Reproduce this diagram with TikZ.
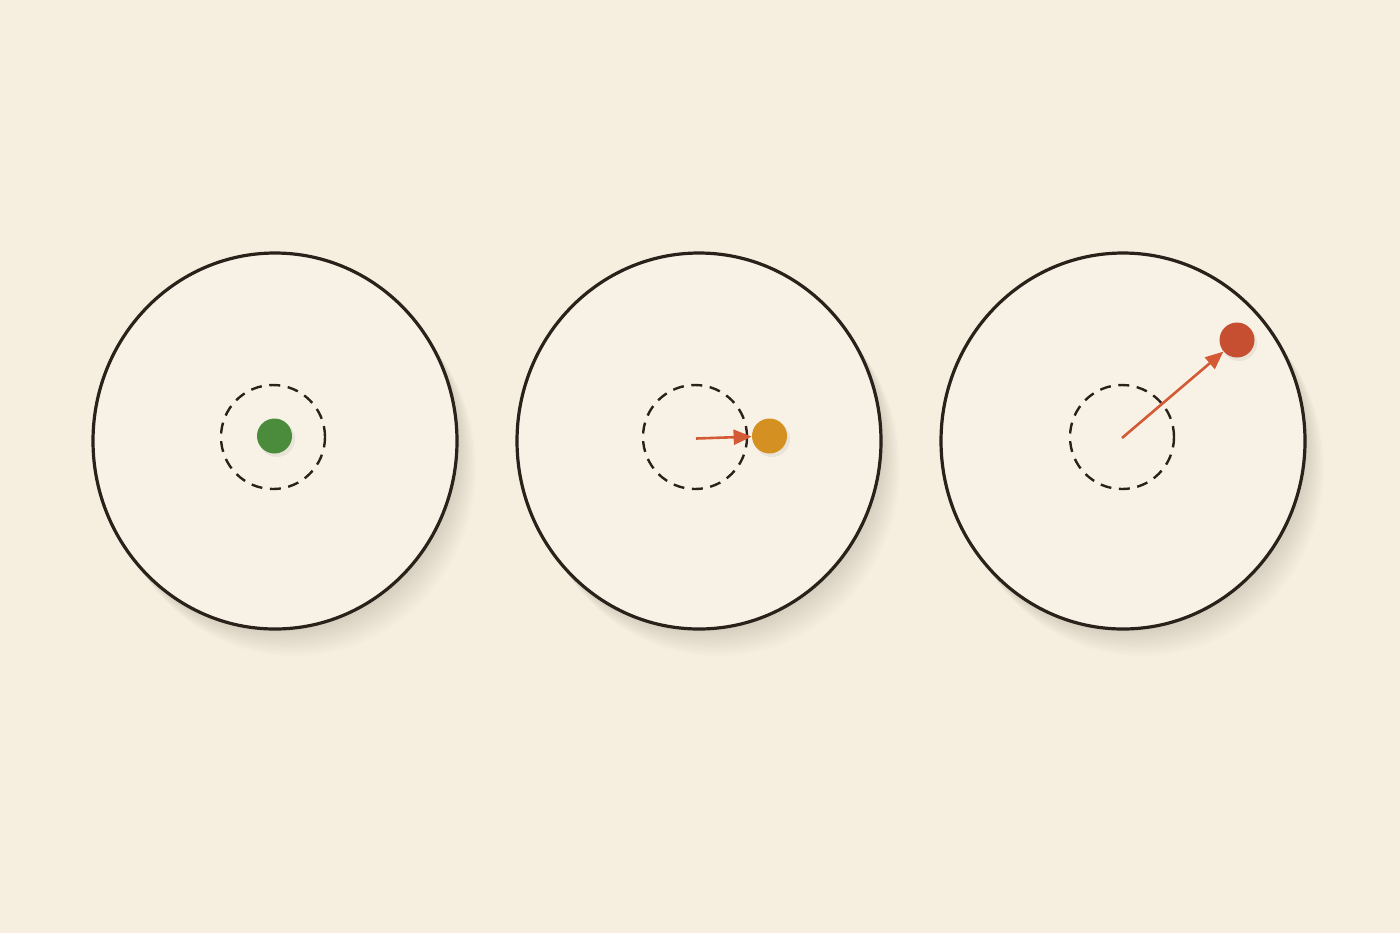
\documentclass[tikz,border=0pt]{standalone}
\usetikzlibrary{shapes.geometric,arrows.meta,positioning}
\definecolor{paper}{HTML}{F6EFE0}
\definecolor{discfill}{HTML}{F8F2E6}
\definecolor{ink}{HTML}{2A211A}
\definecolor{calmgreen}{HTML}{4B8B3C}
\definecolor{driftorange}{HTML}{D49020}
\definecolor{escred}{HTML}{C64F32}
\definecolor{pushred}{HTML}{D35A35}

\begin{document}
\begin{tikzpicture}[x=0.5pt,y=-0.5pt,
  disc/.style={draw=ink, line width=1.6pt, fill=discfill, ellipse, minimum width=182pt, minimum height=188pt, inner sep=0pt},
  well/.style={draw=ink, line width=1.2pt, dash pattern=on 5.5pt off 3.8pt, circle, minimum size=52pt, inner sep=0pt},
  ball/.style={circle, minimum size=17.5pt, inner sep=0pt},
  kick/.style={-{Triangle[length=9pt,width=7.5pt]}, draw=pushred, fill=pushred, line width=1.3pt}]
% Paper
\fill[paper] (0,0) rectangle (1400,933);
\useasboundingbox (0,0) rectangle (1400,933);

% Soft shadows under the discs
\foreach \cx in {275,699,1123}
  \foreach \k in {1,...,16}
    \fill[black, opacity=0.008] (\cx+\k*1.2,441+\k*1.7) ellipse (91pt and 94pt);

% Discs
\node[disc] (left) at (275,441) {};
\node[disc] (mid) at (699,441) {};
\node[disc] (right) at (1123,441) {};

% Dashed wells
\node[well] (wellL) at (273,437) {};
\node[well] (wellM) at (695,437) {};
\node[well] (wellR) at (1122,437) {};

% Ball shadows
\foreach \bx/\by in {275/436,770/436,1237/340}
  \fill[black, opacity=0.06] (\bx+2,\by+3) circle (9pt);

% Balls
\node[ball, fill=calmgreen] (ballL) at (274.5,436) {};
\node[ball, fill=driftorange] (ballM) at (769.5,436) {};
\node[ball, fill=escred] (ballR) at (1237,340) {};

% Pushes
\coordinate (startM) at (696,438.5);
\coordinate (startR) at (1122,438);
\draw[kick] (startM) -- (ballM);
\draw[kick] (startR) -- (ballR);
\end{tikzpicture}
\end{document}
